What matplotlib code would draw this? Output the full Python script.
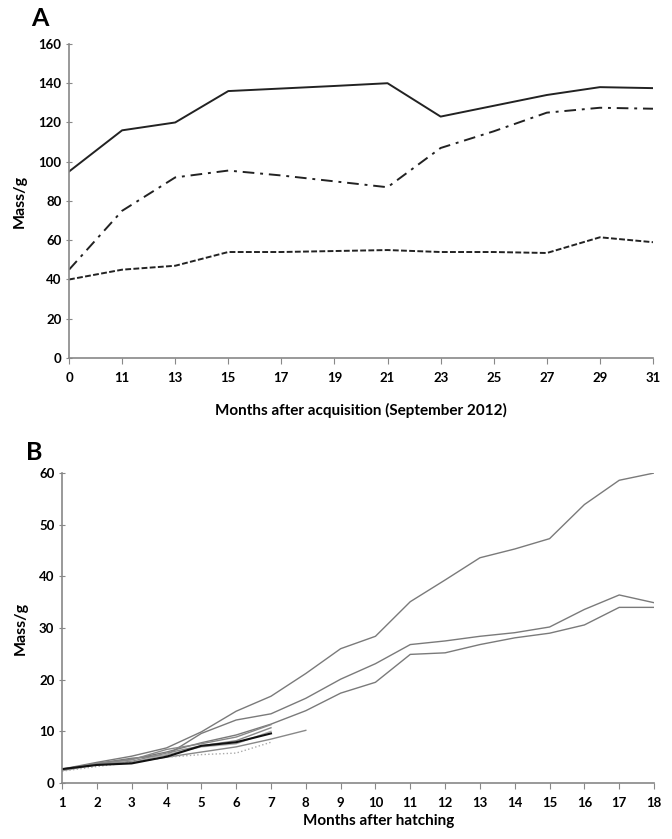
import matplotlib.pyplot as plt
import numpy as np

plt.rcParams['font.family'] = ['Lato', 'DejaVu Sans']

# Panel A: months after acquisition (categorical spacing)
months_a = ['0', '11', '13', '15', '17', '19', '21', '23', '25', '27', '29', '31']
solid_a = [95, 116, 120, 136, 137.3, 138.6, 140, 123, 128.5, 134, 138, 137.5]
dashdot_a = [45, 75, 92, 95.5, 93, 90, 87, 107, 115.5, 125, 127.5, 127]
dashed_a = [40, 45, 47, 54, 54, 54.5, 55, 54, 54, 53.5, 61.5, 59]

# Panel B: months after hatching
months_b = list(range(1, 19))
long_b = [
    [2.7, 4.0, 5.2, 6.8, 9.9, 13.9, 16.8, 21.2, 26.0, 28.4, 35.1, 39.3, 43.6, 45.3, 47.3, 53.9, 58.6, 60.0],
    [2.6, 3.8, 4.8, 5.4, 9.6, 12.2, 13.4, 16.4, 20.1, 23.1, 26.8, 27.5, 28.4, 29.1, 30.2, 33.6, 36.4, 34.9],
    [2.5, 3.7, 4.6, 6.0, 7.8, 9.3, 11.4, 14.0, 17.4, 19.5, 24.9, 25.2, 26.8, 28.1, 29.0, 30.6, 34.0, 34.0],
]
short_b = [
    [2.6, 3.8, 4.5, 6.5, 7.6, 8.9, 11.3],
    [2.5, 3.6, 4.2, 5.8, 7.2, 8.2, 10.7],
    [2.4, 3.5, 4.0, 5.5, 7.0, 7.6, 10.0],
    [2.5, 3.6, 4.0, 5.0, 6.0, 7.0, 8.5, 10.2],
    [2.3, 3.2, 4.0, 5.0, 5.5, 5.8, 7.9],
]
black_b = [2.7, 3.5, 3.8, 5.1, 7.2, 7.9, 9.6]

fig = plt.figure(figsize=(6.72, 8.39), dpi=100)
axa = fig.add_axes([0.1027, 0.5733, 0.869, 0.3743])
axb = fig.add_axes([0.0923, 0.0667, 0.881, 0.3695])

xa = np.arange(len(months_a))
axa.plot(xa, solid_a, color='#222222', lw=1.4, ls='-')
axa.plot(xa, dashdot_a, color='#222222', lw=1.4, ls=(0, (6, 3, 1.5, 3)))
axa.plot(xa, dashed_a, color='#222222', lw=1.4, ls=(0, (3, 1.2)))
axa.set_xlim(0, len(months_a) - 1)
axa.set_ylim(0, 160)
axa.set_xticks(xa)
axa.set_xticklabels(months_a)
axa.set_yticks(range(0, 161, 20))
axa.set_xlabel('Months after acquisition (September 2012)', fontsize=11, fontweight='bold', labelpad=14)
axa.set_ylabel('Mass/g', fontsize=11.5, fontweight='bold', labelpad=8)

for y in long_b:
    axb.plot(months_b[:len(y)], y, color='#7a7a7a', lw=1.0)
for i, y in enumerate(short_b):
    ls = ':' if i == 4 else '-'
    c = '#aaaaaa' if i >= 2 and i != 3 else '#888888'
    axb.plot(months_b[:len(y)], y, color=c, lw=1.0, ls=ls)
axb.plot(months_b[:len(black_b)], black_b, color='#111111', lw=1.5)
axb.set_xlim(1, 18)
axb.set_ylim(0, 60)
axb.set_xticks(months_b)
axb.set_yticks(range(0, 61, 10))
axb.set_xlabel('Months after hatching', fontsize=11, fontweight='bold', labelpad=14)
axb.xaxis.set_label_coords(0.535, -0.1)
axb.set_ylabel('Mass/g', fontsize=11.5, fontweight='bold', labelpad=8)

for ax in (axa, axb):
    for s in ('top', 'right'):
        ax.spines[s].set_visible(False)
    for s in ('left', 'bottom'):
        ax.spines[s].set_color('#888888')
        ax.spines[s].set_linewidth(1.2)
    ax.tick_params(axis='y', direction='inout', length=5, color='#888888', labelsize=9.5, pad=3)
    ax.tick_params(axis='x', direction='out', length=4, color='#888888', labelsize=9.5, pad=6)
    for lab in ax.get_xticklabels() + ax.get_yticklabels():
        lab.set_fontweight('bold')

fig.text(0.046, 0.992, 'A', fontsize=18, fontweight='bold', va='top')
fig.text(0.038, 0.474, 'B', fontsize=18, fontweight='bold', va='top')

fig.savefig('out.png', dpi=100)
